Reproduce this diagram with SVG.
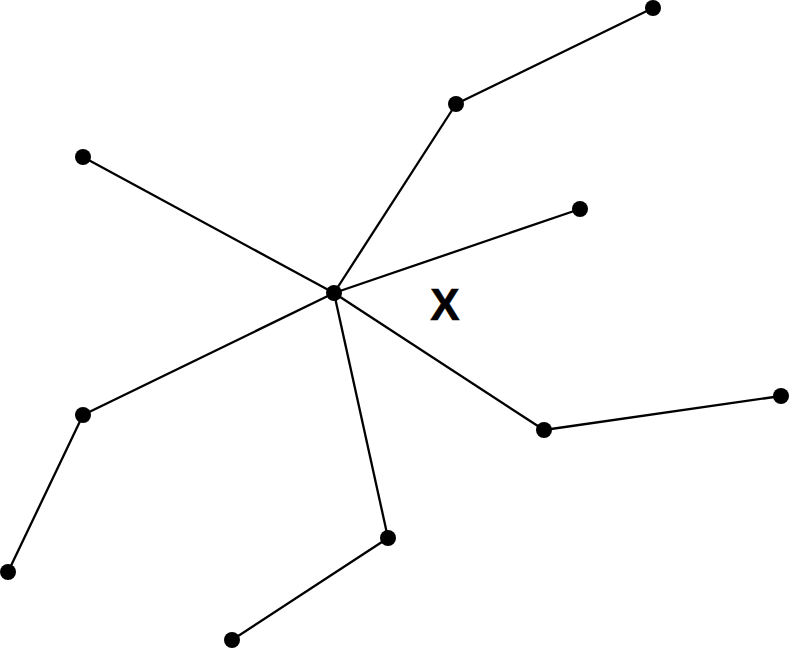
<svg xmlns="http://www.w3.org/2000/svg" width="792" height="649" viewBox="0 0 792 649">
<style>
.e{stroke:#000;stroke-width:2.3;fill:none}
.n{fill:#000}
.lbl{font-family:"Liberation Sans",Arial,sans-serif;font-weight:bold;font-size:44px;fill:#000;stroke:#000;stroke-width:0.6}
</style>
<rect width="792" height="649" fill="#fff"/>
<g id="connectors">
<line class="e" x1="334" y1="293" x2="83" y2="157"/>
<line class="e" x1="334" y1="293" x2="456" y2="104"/>
<line class="e" x1="456" y1="104" x2="653" y2="8"/>
<line class="e" x1="334" y1="293" x2="580" y2="209"/>
<line class="e" x1="334" y1="293" x2="544" y2="430"/>
<line class="e" x1="544" y1="430" x2="781" y2="396"/>
<line class="e" x1="334" y1="293" x2="388" y2="538"/>
<line class="e" x1="388" y1="538" x2="232" y2="640"/>
<line class="e" x1="334" y1="293" x2="83" y2="415"/>
<line class="e" x1="83" y1="415" x2="8" y2="572"/>
</g>
<g id="nC"><circle class="n" cx="334" cy="293" r="8"/></g>
<g id="nA"><circle class="n" cx="83" cy="157" r="8"/></g>
<g id="nB"><circle class="n" cx="456" cy="104" r="8"/></g>
<g id="nD"><circle class="n" cx="653" cy="8" r="8"/></g>
<g id="nE"><circle class="n" cx="580" cy="209" r="8"/></g>
<g id="nF"><circle class="n" cx="544" cy="430" r="8"/></g>
<g id="nG"><circle class="n" cx="781" cy="396" r="8"/></g>
<g id="nH"><circle class="n" cx="388" cy="538" r="8"/></g>
<g id="nI"><circle class="n" cx="232" cy="640" r="8"/></g>
<g id="nJ"><circle class="n" cx="83" cy="415" r="8"/></g>
<g id="nK"><circle class="n" cx="8" cy="572" r="8"/></g>
<g id="label"><text class="lbl" x="445" y="320" text-anchor="middle">X</text></g>
</svg>
